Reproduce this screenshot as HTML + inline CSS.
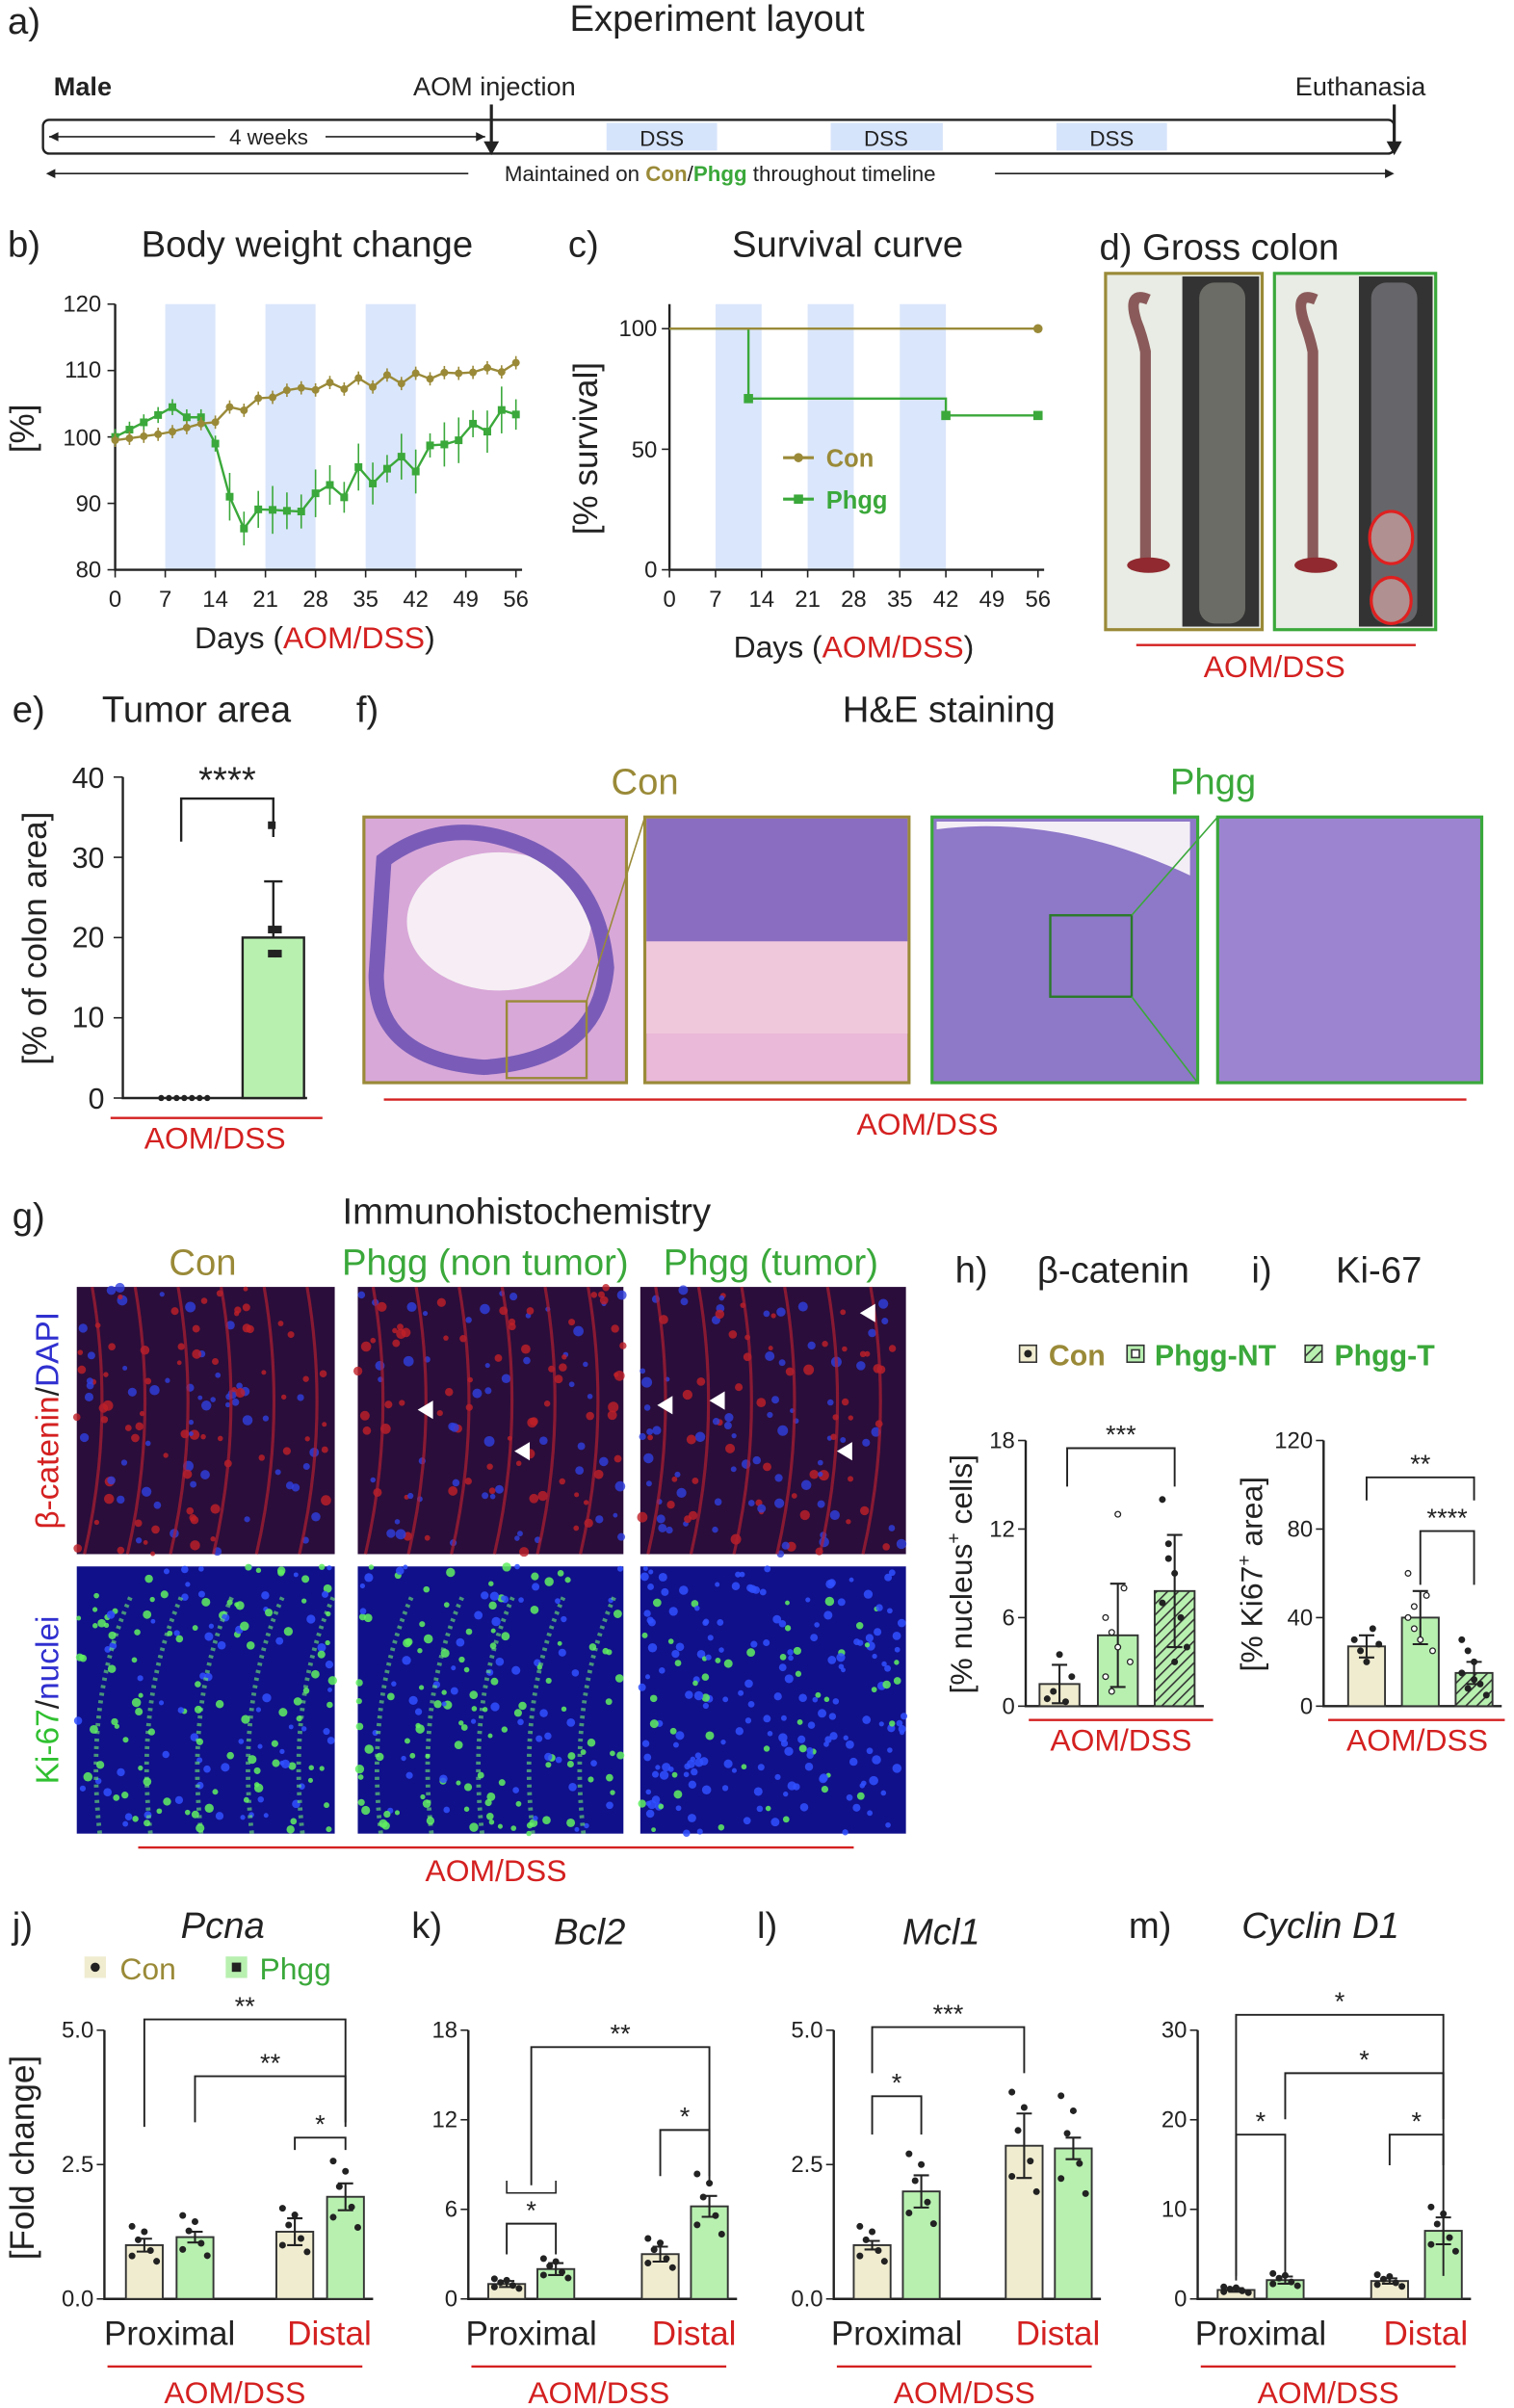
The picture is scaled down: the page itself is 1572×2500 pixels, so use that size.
<!DOCTYPE html>
<html><head><meta charset="utf-8">
<style>
html,body{margin:0;padding:0;background:#fff}
svg{display:block}
text{font-family:"Liberation Sans",Arial,sans-serif;fill:#222}
.t{font-size:24px}
.lab{font-size:22px;font-weight:normal}
.tk{font-size:15px}
.ax{stroke:#222;stroke-width:1.5;fill:none}
.red{fill:#d42020}
.ol{fill:#9a8a38}
.gr{fill:#3aa83a}
</style></head>
<body>
<svg id="s" width="1572" height="2500" viewBox="0 0 986 1568" xmlns="http://www.w3.org/2000/svg">
<defs>
<pattern id="hatch" width="5" height="5" patternUnits="userSpaceOnUse" patternTransform="rotate(45)">
<rect width="5" height="5" fill="#b8f0b0"/><line x1="0" y1="0" x2="0" y2="5" stroke="#333" stroke-width="2"/></pattern>
</defs>
<!-- a -->
<text x="5" y="22" class="t">a)</text>
<text x="467" y="20" class="t" text-anchor="middle">Experiment  layout</text>
<text x="35" y="62" font-size="17" font-weight="bold">Male</text>
<text x="322" y="62" font-size="17" text-anchor="middle">AOM injection</text>
<text x="886" y="62" font-size="17" text-anchor="middle">Euthanasia</text>
<rect x="28" y="78" width="880" height="22" rx="4" fill="none" stroke="#222" stroke-width="1.5"/>
<rect x="395" y="80" width="72" height="18" fill="#d6e4fb"/><text x="431" y="95" font-size="14" text-anchor="middle">DSS</text>
<rect x="541" y="80" width="73" height="18" fill="#d6e4fb"/><text x="577" y="95" font-size="14" text-anchor="middle">DSS</text>
<rect x="688" y="80" width="72" height="18" fill="#d6e4fb"/><text x="724" y="95" font-size="14" text-anchor="middle">DSS</text>
<line x1="320" y1="68" x2="320" y2="98" stroke="#222" stroke-width="2"/><path d="M315,92 L320,101 L325,92Z" fill="#222"/>
<line x1="908" y1="68" x2="908" y2="98" stroke="#222" stroke-width="2"/><path d="M903,92 L908,101 L913,92Z" fill="#222"/>
<line x1="32" y1="89" x2="140" y2="89" stroke="#222"/><line x1="212" y1="89" x2="316" y2="89" stroke="#222"/>
<path d="M32,89 l6,-3 v6z M316,89 l-6,-3 v6z" fill="#222"/>
<text x="175" y="94" font-size="14" text-anchor="middle">4 weeks</text>
<line x1="32" y1="113" x2="305" y2="113" stroke="#222"/><line x1="648" y1="113" x2="906" y2="113" stroke="#222"/>
<path d="M30,113 l6,-3 v6z M908,113 l-6,-3 v6z" fill="#222"/>
<text x="469" y="118" font-size="14" text-anchor="middle">Maintained on <tspan class="ol" font-weight="bold">Con</tspan>/<tspan class="gr" font-weight="bold">Phgg</tspan> throughout timeline</text>

<!-- b -->
<text x="5" y="167" class="t">b)</text>
<text x="200" y="167" class="t" text-anchor="middle">Body weight change</text>
<g id="bBands"></g>
<text x="28" y="285" class="lab" transform="rotate(-90 22 285)" text-anchor="middle">[%]</text>
<g class="tk" text-anchor="end">
<text x="66" y="203">120</text><text x="66" y="246">110</text><text x="66" y="290">100</text><text x="66" y="333">90</text><text x="66" y="376">80</text></g>
<text x="205" y="422" font-size="20" text-anchor="middle">Days (<tspan class="red">AOM/DSS</tspan>)</text>
<g id="b"></g>

<!-- c -->
<text x="370" y="167" class="t">c)</text>
<text x="552" y="167" class="t" text-anchor="middle">Survival curve</text>
<text x="389" y="292" class="lab" transform="rotate(-90 389 292)" text-anchor="middle">[% survival]</text>
<g class="tk" text-anchor="end"><text x="428" y="219">100</text><text x="428" y="298">50</text><text x="428" y="376">0</text></g>
<text x="556" y="428" font-size="20" text-anchor="middle">Days (<tspan class="red">AOM/DSS</tspan>)</text>
<g id="c"></g>
<line x1="510" y1="298" x2="530" y2="298" stroke="#9a8a38" stroke-width="2"/><circle cx="520" cy="298" r="3" fill="#9a8a38"/>
<text x="538" y="304" font-size="16" class="ol" font-weight="bold">Con</text>
<line x1="510" y1="325" x2="530" y2="325" stroke="#3aa83a" stroke-width="2"/><rect x="517" y="322" width="6" height="6" fill="#3aa83a"/>
<text x="538" y="331" font-size="16" class="gr" font-weight="bold">Phgg</text>

<!-- d -->
<text x="716" y="169" class="t">d) Gross colon</text>
<text x="768" y="197" class="t ol" text-anchor="middle">Con</text>
<text x="877" y="197" class="t gr" text-anchor="middle">Phgg</text>
<rect x="720" y="178" width="102" height="232" fill="#e8ece4" stroke="#9a8a38" stroke-width="2"/>
<rect x="770" y="180" width="50" height="228" fill="#333"/>
<rect x="781" y="184" width="30" height="222" rx="10" fill="#6c6c66"/>
<path d="M748,195 q-14,-6 -8,14 q4,10 6,20 l0,135" stroke="#8a5a5a" stroke-width="7" fill="none"/>
<ellipse cx="748" cy="368" rx="14" ry="5" fill="#902a30"/>
<rect x="830" y="178" width="105" height="232" fill="#e8ece4" stroke="#3aa83a" stroke-width="2"/>
<rect x="885" y="180" width="48" height="228" fill="#333"/>
<rect x="893" y="184" width="30" height="222" rx="10" fill="#66666a"/>
<path d="M857,195 q-14,-6 -8,14 q4,10 6,20 l0,135" stroke="#8a5a5a" stroke-width="7" fill="none"/>
<ellipse cx="857" cy="368" rx="14" ry="5" fill="#902a30"/>
<ellipse cx="906" cy="350" rx="14" ry="17" fill="#b09090" stroke="#e02020" stroke-width="2"/>
<ellipse cx="906" cy="391" rx="13" ry="15" fill="#b09090" stroke="#e02020" stroke-width="2"/>
<line x1="740" y1="420" x2="922" y2="420" stroke="#d42020" stroke-width="1.5"/>
<text x="830" y="441" font-size="20" class="red" text-anchor="middle">AOM/DSS</text>

<!-- e -->
<text x="8" y="470" class="t">e)</text>
<text x="128" y="470" class="t" text-anchor="middle">Tumor area</text>
<text x="30" y="611" class="lab" transform="rotate(-90 30 611)" text-anchor="middle">[% of colon area]</text>
<g font-size="19" text-anchor="end"><text x="68" y="513">40</text><text x="68" y="565">30</text><text x="68" y="617">20</text><text x="68" y="669">10</text><text x="68" y="722">0</text></g>
<g id="e"></g>
<path d="M118,548 V520 H178 V545" class="ax" stroke-width="1.2"/>
<text x="148" y="516" font-size="24" text-anchor="middle">****</text>
<line x1="72" y1="728" x2="210" y2="728" stroke="#d42020" stroke-width="1.5"/>
<text x="140" y="748" font-size="20" class="red" text-anchor="middle">AOM/DSS</text>

<!-- f -->
<text x="232" y="470" class="t">f)</text>
<text x="618" y="470" class="t" text-anchor="middle">H&amp;E staining</text>
<text x="420" y="517" class="t ol" text-anchor="middle">Con</text>
<text x="790" y="517" class="t gr" text-anchor="middle">Phgg</text>
<rect x="237" y="532" width="171" height="173" fill="#d8a8d8" stroke="#9a8a38" stroke-width="2"/>
<ellipse cx="325" cy="600" rx="60" ry="45" fill="#f6eef4"/>
<path d="M250,560 q40,-30 90,-10 q50,20 55,80 q-5,60 -80,65 q-70,-5 -70,-60z" fill="none" stroke="#7a5cb8" stroke-width="10"/>
<rect x="330" y="652" width="52" height="50" fill="none" stroke="#9a8a38" stroke-width="1.5"/>
<rect x="420" y="532" width="172" height="173" fill="#eab8d8" stroke="#9a8a38" stroke-width="2"/>
<rect x="421" y="533" width="170" height="80" fill="#8a6cc0"/>
<rect x="421" y="613" width="170" height="60" fill="#f0c8dc"/>
<rect x="607" y="532" width="173" height="173" fill="#8e78c8" stroke="#3aa83a" stroke-width="2"/>
<path d="M610,540 q80,-10 165,30 l0,-35 l-165,0z" fill="#f3eef6"/>
<rect x="684" y="596" width="53" height="53" fill="none" stroke="#2a7a2a" stroke-width="1.5"/>
<rect x="793" y="532" width="172" height="173" fill="#9c84d0" stroke="#3aa83a" stroke-width="2"/>
<line x1="737" y1="596" x2="793" y2="532" stroke="#3aa83a"/><line x1="737" y1="649" x2="780" y2="705" stroke="#3aa83a"/>
<line x1="382" y1="652" x2="420" y2="532" stroke="#9a8a38"/>
<line x1="250" y1="716" x2="955" y2="716" stroke="#d42020" stroke-width="1.5"/>
<text x="604" y="739" font-size="20" class="red" text-anchor="middle">AOM/DSS</text>

<!-- g -->
<text x="8" y="800" class="t">g)</text>
<text x="343" y="797" class="t" text-anchor="middle">Immunohistochemistry</text>
<text x="132" y="830" class="t ol" text-anchor="middle">Con</text>
<text x="316" y="830" class="t gr" text-anchor="middle">Phgg (non tumor)</text>
<text x="502" y="830" class="t gr" text-anchor="middle">Phgg (tumor)</text>
<text x="38" y="925" font-size="21" transform="rotate(-90 38 925)" text-anchor="middle"><tspan class="red">β-catenin</tspan>/<tspan fill="#3030d0">DAPI</tspan></text>
<text x="38" y="1107" font-size="21" transform="rotate(-90 38 1107)" text-anchor="middle"><tspan fill="#30c030">Ki-67</tspan>/<tspan fill="#3030d0">nuclei</tspan></text>
<g id="g"></g>
<line x1="90" y1="1203" x2="556" y2="1203" stroke="#d42020" stroke-width="1.5"/>
<text x="323" y="1225" font-size="20" class="red" text-anchor="middle">AOM/DSS</text>

<!-- h i -->
<text x="622" y="835" class="t">h)</text>
<text x="725" y="835" class="t" text-anchor="middle">β-catenin</text>
<text x="815" y="835" class="t">i)</text>
<text x="898" y="835" class="t" text-anchor="middle">Ki-67</text>
<rect x="664" y="876" width="11" height="11" fill="#f0ecd0" stroke="#333"/><circle cx="669.5" cy="881.5" r="2.5" fill="#222"/>
<text x="683" y="889" font-size="19" class="ol" font-weight="bold">Con</text>
<rect x="734" y="876" width="11" height="11" fill="#b8f0b0" stroke="#333"/><rect x="737" y="879" width="5" height="5" fill="#fff" stroke="#333"/>
<text x="752" y="889" font-size="19" class="gr" font-weight="bold">Phgg-NT</text>
<rect x="850" y="876" width="11" height="11" fill="url(#hatch)" stroke="#333"/>
<text x="869" y="889" font-size="19" class="gr" font-weight="bold">Phgg-T</text>
<text x="633" y="1025" font-size="20" transform="rotate(-90 633 1025)" text-anchor="middle">[% nucleus<tspan font-size="12" dy="-8">+</tspan><tspan dy="8"> cells]</tspan></text>
<text x="822" y="1025" font-size="20" transform="rotate(-90 822 1025)" text-anchor="middle">[% Ki67<tspan font-size="12" dy="-8">+</tspan><tspan dy="8"> area]</tspan></text>
<g id="hi"></g>
<line x1="670" y1="1120" x2="790" y2="1120" stroke="#d42020" stroke-width="1.5"/>
<text x="730" y="1140" font-size="20" class="red" text-anchor="middle">AOM/DSS</text>
<line x1="865" y1="1120" x2="980" y2="1120" stroke="#d42020" stroke-width="1.5"/>
<text x="923" y="1140" font-size="20" class="red" text-anchor="middle">AOM/DSS</text>

<!-- j-m -->
<text x="8" y="1262" class="t">j)</text>
<text x="145" y="1262" class="t" text-anchor="middle" font-style="italic">Pcna</text>
<text x="268" y="1262" class="t">k)</text>
<text x="384" y="1266" class="t" text-anchor="middle" font-style="italic">Bcl2</text>
<text x="493" y="1262" class="t">l)</text>
<text x="613" y="1266" class="t" text-anchor="middle" font-style="italic">Mcl1</text>
<text x="735" y="1262" class="t">m)</text>
<text x="860" y="1262" class="t" text-anchor="middle" font-style="italic">Cyclin D1</text>
<rect x="55" y="1274" width="14" height="14" fill="#f0ecd0"/><circle cx="62" cy="1281" r="3" fill="#222"/>
<text x="78" y="1289" font-size="20" class="ol">Con</text>
<rect x="147" y="1274" width="14" height="14" fill="#b8f0b0"/><rect x="151" y="1278" width="6" height="6" fill="#222"/>
<text x="169" y="1289" font-size="20" class="gr">Phgg</text>
<text x="22" y="1405" class="lab" transform="rotate(-90 22 1405)" text-anchor="middle">[Fold change]</text>
<g id="jm"></g>
</svg>
<script>
const NS="http://www.w3.org/2000/svg";
function el(p,t,a){const e=document.createElementNS(NS,t);for(const k in a)e.setAttribute(k,a[k]);p.appendChild(e);return e;}
function txt(p,x,y,s,o){const e=el(p,'text',Object.assign({x:x,y:y},o||{}));e.textContent=s;return e;}
const OL="#9a8a38",GR="#3aa83a";
// b
(function(){const g=document.getElementById('b'),bb=document.getElementById('bBands');
const X=d=>75+d*261/56,Y=v=>371-(v-80)*173/40;
[[7,14],[21,28],[35,42]].forEach(b=>el(bb,'rect',{x:X(b[0]),y:198,width:X(b[1])-X(b[0]),height:173,fill:"#dae6fb"}));
el(g,'path',{d:"M75,198 V371 H340",class:"ax"});
for(let v=80;v<=120;v+=10)el(g,'line',{x1:70,x2:75,y1:Y(v),y2:Y(v),stroke:"#222"});
for(let d=0;d<=56;d+=7){el(g,'line',{x1:X(d),x2:X(d),y1:371,y2:376,stroke:"#222"});txt(g,X(d),395,d,{'font-size':15,'text-anchor':'middle'});}
const con=[],ph=[];const days=[];for(let d=0;d<=56;d+=2)days.push(d);
days.forEach(d=>{
 let c= d<7?99.5+d*0.15: d<14?100.5+(d-7)*0.3: 103+Math.min(1,(d-14)/10)*4+(d-24>0?(d-24)*0.11:0)+Math.sin(d*1.7)*0.8;
 let p;
 if(d<=7)p=100+d*0.55;else if(d<=13)p=103.5+Math.sin(d)*1;else if(d<=17)p=103-(d-13)*4;else if(d<=24)p=87+(d-17)*0.4+Math.sin(d*2)*1.2;
 else if(d<=42)p=89.5+(d-24)*0.4+Math.sin(d*1.9)*2;else p=97+(d-42)*0.5+Math.sin(d*1.3)*1.2;
 con.push([X(d),Y(c)]);ph.push([X(d),Y(p)]);});
[[ph,GR,'r'],[con,OL,'c']].forEach(([s,col,sh],i)=>{
 el(g,'polyline',{points:s.map(p=>p.join(',')).join(' '),fill:'none',stroke:col,'stroke-width':1.5});
 s.forEach((p,k)=>{const er=(i==0?(k>7?1.8+Math.abs(Math.sin(k))*1.8:1.2):1)*4.33;
  el(g,'line',{x1:p[0],x2:p[0],y1:p[1]-er,y2:p[1]+er,stroke:col});
  if(sh=='r')el(g,'rect',{x:p[0]-2.5,y:p[1]-2.5,width:5,height:5,fill:col});else el(g,'circle',{cx:p[0],cy:p[1],r:2.5,fill:col});});});
})();
// c
(function(){const g=document.getElementById('c');const X=d=>436+d*240/56,Y=v=>371-v*1.57;
[[7,14],[21,28],[35,42]].forEach(b=>el(g,'rect',{x:X(b[0]),y:198,width:X(b[1])-X(b[0]),height:173,fill:"#dae6fb"}));
el(g,'path',{d:"M436,198 V371 H680",class:"ax"});
[0,50,100].forEach(v=>el(g,'line',{x1:431,x2:436,y1:Y(v),y2:Y(v),stroke:"#222"}));
for(let d=0;d<=56;d+=7){el(g,'line',{x1:X(d),x2:X(d),y1:371,y2:376,stroke:"#222"});txt(g,X(d),395,d,{'font-size':15,'text-anchor':'middle'});}
el(g,'path',{d:`M${X(0)},${Y(100)} H${X(12)} V${Y(71)} H${X(42)} V${Y(64)} H${X(56)}`,fill:'none',stroke:GR,'stroke-width':1.5});
el(g,'path',{d:`M${X(0)},${Y(100)} H${X(56)}`,fill:'none',stroke:OL,'stroke-width':1.5});
el(g,'circle',{cx:X(56),cy:Y(100),r:3,fill:OL});
[[12,71],[42,64],[56,64]].forEach(p=>el(g,'rect',{x:X(p[0])-3,y:Y(p[1])-3,width:6,height:6,fill:GR}));
})();
// e
(function(){const g=document.getElementById('e');const Y=v=>715-v*5.225;
el(g,'path',{d:"M80,506 V715 H200",class:"ax"});
for(let v=0;v<=40;v+=10)el(g,'line',{x1:74,x2:80,y1:Y(v),y2:Y(v),stroke:"#222"});
el(g,'rect',{x:158,y:Y(20),width:40,height:Y(0)-Y(20),fill:"#b8f0b0",stroke:"#222",'stroke-width':1.5});
el(g,'line',{x1:178,x2:178,y1:Y(20),y2:Y(27),stroke:"#222",'stroke-width':1.5});
el(g,'line',{x1:172,x2:184,y1:Y(27),y2:Y(27),stroke:"#222",'stroke-width':1.5});
[[177,34],[177,21],[181,21],[177,18],[181,18]].forEach(p=>el(g,'rect',{x:p[0]-2.5,y:Y(p[1])-2.5,width:5,height:5,fill:"#222"}));
for(let i=0;i<7;i++)el(g,'circle',{cx:105+i*5,cy:715,r:2,fill:"#222"});
})();
// g images
(function(){const g=document.getElementById('g');const xs=[50,233,417],ys=[838,1020];
let seed=7;const r=()=>{seed=(seed*9301+49297)%233280;return seed/233280;};
xs.forEach((x,i)=>ys.forEach((y,j)=>{
 const w=i==0?168:173,h=174;
 el(g,'rect',{x:x,y:y,width:w,height:h,fill:j==0?"#2a0d3a":"#10108a"});
 const n=j==0?120:(i==2?220:160);
 for(let k=0;k<n;k++){const cx=x+r()*w,cy=y+r()*h;
  if(j==0)el(g,'circle',{cx:cx,cy:cy,r:1.5+r()*2,fill:r()<0.5?"#c02028":"#3040e0",opacity:.8});
  else el(g,'circle',{cx:cx,cy:cy,r:1.5+r()*1.5,fill:(i<2&&r()<0.6)||(i==2&&r()<0.2)?"#60f060":"#3050ff",opacity:.85});}
 if(j==0)for(let k=0;k<6;k++)el(g,'path',{d:`M${x+10+k*28},${y} q15,${h/2} ${-5},${h}`,stroke:"#b02030",'stroke-width':2,fill:'none',opacity:.7});
 else if(i<2)for(let k=0;k<5;k++)el(g,'path',{d:`M${x+15+k*33},${y+h} q-10,${-h/2} 20,${-h+20}`,stroke:"#70f070",'stroke-width':3,fill:'none',opacity:.6,'stroke-dasharray':'2 3'});
}));
[[272,918],[335,945],[428,915],[462,912],[545,945],[560,855]].forEach(p=>el(g,'path',{d:`M${p[0]},${p[1]} l10,-6 v12z`,fill:"#fff"}));
})();
function bars(g,ax,y0,y1,max,ticks,data,fmt){
 const Y=v=>y1-(v/max)*(y1-y0);
 el(g,'path',{d:`M${ax},${y0} V${y1} H${data[data.length-1].x+data[data.length-1].w+6}`,class:'ax'});
 ticks.forEach(t=>{el(g,'line',{x1:ax-5,x2:ax,y1:Y(t),y2:Y(t),stroke:'#222'});txt(g,ax-7,Y(t)+5,fmt?t.toFixed(1):t,{'font-size':15,'text-anchor':'end'});});
 data.forEach(d=>{
  el(g,'rect',{x:d.x,y:Y(d.v),width:d.w,height:Y(0)-Y(d.v),fill:d.f,stroke:'#333','stroke-width':1.2});
  const cx=d.x+d.w/2;el(g,'line',{x1:cx,x2:cx,y1:Y(d.v+d.e),y2:Y(Math.max(0,d.v-d.e)),stroke:'#222','stroke-width':1.3});
  [d.v+d.e,Math.max(0,d.v-d.e)].forEach(v=>el(g,'line',{x1:cx-5,x2:cx+5,y1:Y(v),y2:Y(v),stroke:'#222','stroke-width':1.3}));
  (d.pts||[]).forEach((p,k)=>{const px=cx-8+(k%5)*4;el(g,'circle',{cx:px,cy:Y(p),r:1.8,fill:d.o?'#fff':'#222',stroke:'#222','stroke-width':0.8});});
 });
 return Y;}
function brk(g,x1,x2,y,drop,star){el(g,'path',{d:`M${x1},${y+drop} V${y} H${x2} V${y+drop}`,fill:'none',stroke:'#222','stroke-width':1.2});
 txt(g,(x1+x2)/2,y-3,star,{'font-size':17,'text-anchor':'middle'});}
const C="#f0ecd0",P="#b8f0b0";
(function(){const g=document.getElementById('hi');
 bars(g,668,938,1111,18,[0,6,12,18],[{x:677,w:26,v:1.5,e:1.3,f:C,pts:[0.5,1,3.5,0.3,2]},{x:715,w:26,v:4.8,e:3.5,f:P,o:1,pts:[2,5,13,8,3,6,1,4]},{x:752,w:26,v:7.8,e:3.8,f:'url(#hatch)',pts:[14,11,9,6,4,7,10,3]}]);
 brk(g,695,765,943,25,'***');
 bars(g,862,938,1111,120,[0,40,80,120],[{x:878,w:24,v:27,e:5,f:C,pts:[30,25,20,35,28]},{x:913,w:24,v:40,e:12,f:P,o:1,pts:[60,45,30,50,25,40,35]},{x:948,w:24,v:15,e:5,f:'url(#hatch)',pts:[30,25,20,10,5,15,8,12]}]);
 brk(g,890,960,962,15,'**');brk(g,925,960,997,35,'****');
})();
(function(){const g=document.getElementById('jm');const y0=1322,y1=1497;
 const cfg=[
 {ax:68,max:5,t:[0,2.5,5],f:1,d:[1,1.15,1.25,1.9],e:[.12,.1,.25,.25],x:[82,115,180,213]},
 {ax:305,max:18,t:[0,6,12,18],d:[1,2,3,6.2],e:[.2,.4,.5,.7],x:[318,350,418,450]},
 {ax:543,max:5,t:[0,2.5,5],f:1,d:[1,2,2.85,2.8],e:[.08,.3,.6,.2],x:[556,588,655,687]},
 {ax:780,max:30,t:[0,10,20,30],d:[1,2.1,2,7.6],e:[.2,.4,.3,1.5],x:[793,825,893,928]}];
 cfg.forEach((c,i)=>{
  const data=c.d.map((v,k)=>({x:c.x[k],w:24,v:v,e:c.e[k],f:k%2?P:C,pts:[v*0.8,v*1.1,v*1.25,v*0.9,v*0.7,v*1.35]}));
  bars(g,c.ax,y0,y1,c.max,c.t,data,c.f);
  const mid=(c.x[0]+c.x[1]+24)/2,mid2=(c.x[2]+c.x[3]+24)/2;
  txt(g,mid,1527,'Proximal',{'font-size':22,'text-anchor':'middle'});
  txt(g,mid2+6,1527,'Distal',{'font-size':22,'text-anchor':'middle',class:'red'});
  el(g,'line',{x1:c.ax+2,x2:c.ax+168,y1:1541,y2:1541,stroke:'#d42020','stroke-width':1.5});
  txt(g,c.ax+85,1565,'AOM/DSS',{'font-size':20,'text-anchor':'middle',class:'red'});
 });
 brk(g,94,225,1315,70,'**');brk(g,127,225,1352,30,'**');brk(g,192,225,1392,8,'*');
 brk(g,330,362,1448,20,'*');el(g,'path',{d:'M330,1420 V1428 H362 V1420',fill:'none',stroke:'#222'});brk(g,346,462,1333,90,'**');brk(g,430,462,1387,30,'*');
 brk(g,568,600,1365,25,'*');brk(g,568,667,1320,30,'***');
 brk(g,805,837,1390,95,'*');brk(g,805,940,1312,170,'*');brk(g,837,940,1350,30,'*');brk(g,905,940,1390,20,'*');
})();
</script>
</body></html>
